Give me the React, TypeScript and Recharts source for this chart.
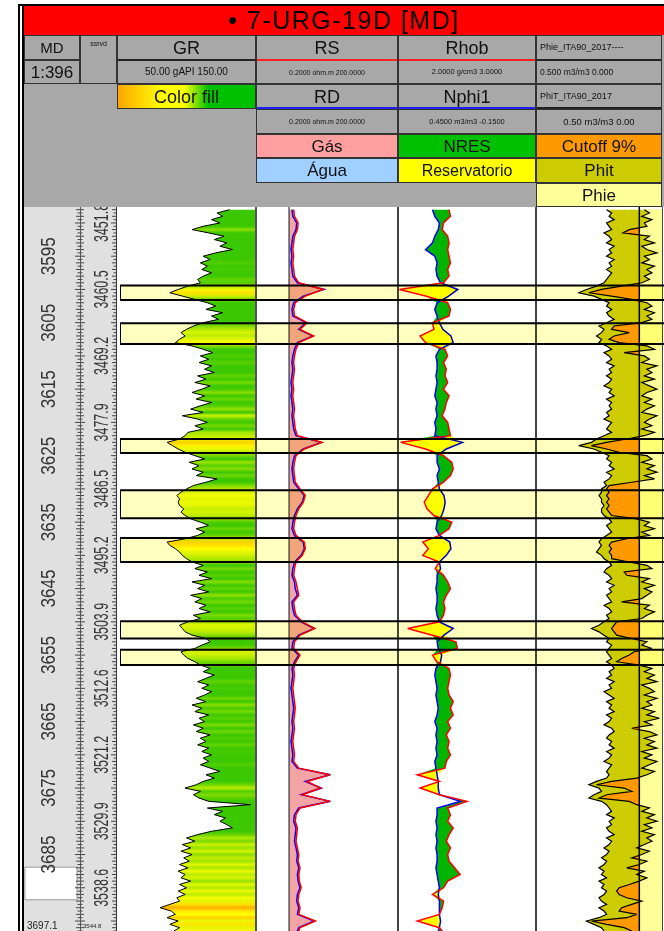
import React from 'react';
import { ComposedChart, Line, Area, XAxis, YAxis, ReferenceArea, ReferenceLine } from 'recharts';

// depth window shown by the log (m, MD)
const TOP_MD = 3587.6;
const BASE_MD = 3696.5;

const MD_TICKS = [3595, 3605, 3615, 3625, 3635, 3645, 3655, 3665, 3675, 3685];
const TVD_TICKS = [3590, 3600, 3610, 3620, 3630, 3640, 3650, 3660, 3670, 3680, 3690];
const TVD_LABELS = ['3451.8', '3460.5', '3469.2', '3477.9', '3486.5', '3495.2', '3503.9', '3512.6', '3521.2', '3529.9', '3538.6'];

// reservoir intervals (yellow boxes)
const ZONES: [number, number][] = [
  [3599.4, 3601.6], [3605.1, 3608.2], [3622.5, 3624.6], [3630.2, 3634.4],
  [3637.4, 3641.0], [3649.9, 3652.5], [3654.2, 3656.5],
];
const MARKER: [number, number] = [3686.9, 3691.8];

// 0.5 m samples starting at 3588.0
const FINE_START = 3588;
const FINE_STEP = 0.5;
const GR = [
  131, 122, 126, 118, 124, 112, 104, 116, 127, 120,
  129, 124, 133, 121, 112, 117, 110, 115, 111, 118,
  112, 108, 110, 101, 94, 88, 97, 106, 115, 121,
  114, 126, 118, 123, 112, 105, 100, 96, 99, 95,
  92, 104, 112, 119, 110, 116, 109, 118, 113, 120,
  108, 114, 106, 117, 111, 104, 113, 107, 118, 110,
  103, 112, 97, 108, 115, 106, 112, 101, 99, 95,
  86, 90, 94, 99, 106, 113, 102, 109, 104, 112,
  107, 122, 114, 105, 100, 96, 93, 95, 94, 95,
  98, 96, 99, 103, 110, 116, 107, 113, 108, 99,
  86, 88, 92, 95, 97, 100, 104, 112, 106, 115,
  109, 118, 104, 113, 108, 116, 103, 111, 106, 114,
  109, 117, 105, 110, 101, 95, 97, 99, 104, 114,
  117, 111, 106, 96, 98, 101, 106, 110, 117, 112,
  120, 114, 108, 116, 111, 118, 113, 107, 114, 104,
  111, 106, 116, 109, 113, 105, 112, 107, 117, 110,
  114, 108, 116, 111, 118, 112, 116, 110, 117, 124,
  114, 120, 112, 107, 99, 110, 105, 109, 116, 146,
  115, 126, 120, 128, 124, 129, 133, 118, 108, 100,
  106, 97, 103, 96, 104, 98, 102, 95, 101, 94,
  99, 96, 103, 95, 100, 94, 99, 93, 95, 88,
  81, 89, 92, 86, 94, 88, 95, 91,
];
const PHIT = [
  0.22, 0.20, 0.21, 0.19, 0.22, 0.21, 0.20, 0.23, 0.21, 0.20,
  0.22, 0.19, 0.21, 0.20, 0.22, 0.19, 0.21, 0.20, 0.22, 0.20,
  0.21, 0.22, 0.23, 0.26, 0.30, 0.33, 0.27, 0.24, 0.21, 0.22,
  0.20, 0.22, 0.21, 0.19, 0.22, 0.25, 0.23, 0.24, 0.26, 0.24,
  0.25, 0.22, 0.20, 0.23, 0.21, 0.20, 0.22, 0.19, 0.21, 0.20,
  0.22, 0.20, 0.21, 0.23, 0.20, 0.21, 0.19, 0.22, 0.20, 0.21,
  0.20, 0.22, 0.21, 0.23, 0.20, 0.21, 0.22, 0.20, 0.23, 0.26,
  0.28, 0.33, 0.27, 0.24, 0.21, 0.22, 0.20, 0.21, 0.19, 0.22,
  0.20, 0.21, 0.23, 0.22, 0.24, 0.24, 0.25, 0.24, 0.24, 0.23,
  0.24, 0.24, 0.23, 0.21, 0.20, 0.22, 0.21, 0.20, 0.22, 0.24,
  0.25, 0.24, 0.25, 0.26, 0.24, 0.23, 0.21, 0.20, 0.22, 0.23,
  0.21, 0.20, 0.22, 0.19, 0.21, 0.20, 0.22, 0.21, 0.20, 0.23,
  0.21, 0.20, 0.22, 0.21, 0.23, 0.25, 0.28, 0.25, 0.23, 0.21,
  0.22, 0.20, 0.21, 0.22, 0.21, 0.20, 0.22, 0.20, 0.19, 0.21,
  0.20, 0.22, 0.19, 0.21, 0.20, 0.23, 0.21, 0.19, 0.22, 0.20,
  0.21, 0.19, 0.22, 0.20, 0.21, 0.23, 0.20, 0.19, 0.21, 0.22,
  0.20, 0.21, 0.19, 0.22, 0.20, 0.21, 0.23, 0.20, 0.21, 0.22,
  0.21, 0.22, 0.26, 0.29, 0.25, 0.24, 0.27, 0.29, 0.24, 0.22,
  0.21, 0.20, 0.22, 0.19, 0.21, 0.20, 0.22, 0.21, 0.19, 0.22,
  0.20, 0.21, 0.23, 0.21, 0.22, 0.24, 0.22, 0.23, 0.25, 0.23,
  0.24, 0.22, 0.25, 0.23, 0.24, 0.22, 0.23, 0.25, 0.24, 0.22,
  0.25, 0.23, 0.22, 0.25, 0.30, 0.27, 0.24, 0.23,
];
const PHIE = [
  0.07, 0.05, 0.08, 0.04, 0.07, 0.06, 0.13, 0.155, 0.05, 0.07,
  0.03, 0.08, 0.06, 0.02, 0.07, 0.05, 0.08, 0.03, 0.06, 0.04,
  0.07, 0.05, 0.08, 0.16, 0.24, 0.29, 0.20, 0.12, 0.06, 0.04,
  0.07, 0.03, 0.06, 0.04, 0.08, 0.19, 0.20, 0.13, 0.19, 0.21,
  0.17, 0.06, 0.03, 0.15, 0.07, 0.05, 0.08, 0.02, 0.06, 0.04,
  0.07, 0.03, 0.08, 0.05, 0.02, 0.06, 0.08, 0.04, 0.07, 0.03,
  0.06, 0.08, 0.02, 0.05, 0.07, 0.04, 0.08, 0.03, 0.07, 0.14,
  0.22, 0.28, 0.22, 0.17, 0.06, 0.04, 0.08, 0.03, 0.06, 0.02,
  0.07, 0.03, 0.12, 0.21, 0.22, 0.21, 0.22, 0.21, 0.22, 0.21,
  0.22, 0.21, 0.20, 0.10, 0.05, 0.07, 0.03, 0.08, 0.05, 0.14,
  0.20, 0.21, 0.20, 0.21, 0.20, 0.20, 0.13, 0.06, 0.04, 0.15,
  0.14, 0.05, 0.08, 0.03, 0.07, 0.04, 0.06, 0.08, 0.16, 0.05,
  0.07, 0.03, 0.06, 0.08, 0.18, 0.19, 0.20, 0.19, 0.18, 0.12,
  0.06, 0.08, 0.04, 0.11, 0.13, 0.16, 0.18, 0.09, 0.04, 0.07,
  0.03, 0.06, 0.02, 0.08, 0.05, 0.03, 0.07, 0.02, 0.06, 0.04,
  0.08, 0.03, 0.06, 0.01, 0.07, 0.04, 0.12, 0.05, 0.02, 0.07,
  0.03, 0.06, 0.02, 0.08, 0.04, 0.07, 0.02, 0.05, 0.08, 0.03,
  0.06, 0.10, 0.20, 0.26, 0.15, 0.12, 0.22, 0.25, 0.13, 0.10,
  0.05, 0.08, 0.03, 0.06, 0.02, 0.07, 0.04, 0.08, 0.03, 0.06,
  0.04, 0.07, 0.10, 0.05, 0.08, 0.12, 0.06, 0.09, 0.14, 0.07,
  0.10, 0.06, 0.09, 0.13, 0.17, 0.18, 0.17, 0.14, 0.08, 0.12,
  0.16, 0.17, 0.10, 0.14, 0.28, 0.22, 0.15, 0.12,
];

// 1 m samples starting at 3588
const COARSE_START = 3588;
const COARSE_STEP = 1;
const RD = [
  1.15, 1.2, 1.45, 1.4, 1.2, 1.15, 1.1, 1.15, 1.1, 1.15,
  1.2, 1.5, 5.5, 2.0, 1.25, 1.15, 1.2, 2.3, 1.6, 3.2,
  1.5, 1.3, 1.2, 1.15, 1.2, 1.15, 1.1, 1.15, 1.1, 1.15,
  1.2, 1.15, 1.2, 1.25, 1.4, 4.8, 2.0, 1.3, 1.2, 1.15,
  1.2, 1.25, 1.6, 2.1, 1.9, 1.5, 1.3, 1.2, 1.15, 1.3,
  2.0, 2.1, 1.8, 1.3, 1.2, 1.15, 1.3, 1.35, 1.5, 1.15,
  1.2, 1.3, 1.8, 3.4, 1.6, 1.2, 1.15, 1.6, 1.3, 1.15,
  1.2, 1.15, 1.1, 1.15, 1.2, 1.25, 1.2, 1.15, 1.2, 1.15,
  1.1, 1.15, 1.2, 1.15, 1.5, 7.5, 2.2, 4.8, 1.8, 7.5,
  1.6, 1.3, 1.25, 1.4, 1.35, 1.3, 1.4, 1.5, 1.45, 1.6,
  1.5, 1.55, 1.7, 1.5, 1.45, 1.6, 1.5, 3.4, 1.6, 1.4,
];
const RS = [
  1.25, 1.3, 1.55, 1.5, 1.3, 1.25, 1.2, 1.25, 1.2, 1.25,
  1.3, 1.6, 5.2, 2.2, 1.35, 1.25, 1.3, 2.4, 1.7, 3.3,
  1.6, 1.4, 1.3, 1.25, 1.3, 1.25, 1.2, 1.25, 1.2, 1.25,
  1.3, 1.25, 1.3, 1.35, 1.5, 4.9, 2.1, 1.4, 1.3, 1.25,
  1.3, 1.35, 1.7, 2.2, 2.0, 1.6, 1.4, 1.3, 1.25, 1.4,
  2.1, 2.2, 1.9, 1.4, 1.3, 1.25, 1.4, 1.5, 1.6, 1.25,
  1.3, 1.4, 1.9, 3.5, 1.7, 1.3, 1.25, 1.7, 1.4, 1.25,
  1.3, 1.25, 1.2, 1.25, 1.3, 1.35, 1.3, 1.25, 1.3, 1.25,
  1.2, 1.25, 1.3, 1.25, 1.6, 7.2, 2.4, 4.6, 1.9, 7.3,
  1.7, 1.4, 1.35, 1.5, 1.45, 1.4, 1.5, 1.6, 1.55, 1.7,
  1.6, 1.65, 1.8, 1.6, 1.55, 1.7, 1.6, 3.6, 1.7, 1.5,
];
const RHOB = [
  2.37, 2.38, 2.33, 2.32, 2.36, 2.37, 2.36, 2.37, 2.38, 2.36,
  2.37, 2.33, 2.01, 2.20, 2.36, 2.38, 2.37, 2.25, 2.26, 2.16,
  2.20, 2.34, 2.36, 2.33, 2.35, 2.34, 2.36, 2.33, 2.37, 2.35,
  2.34, 2.32, 2.36, 2.37, 2.38, 2.02, 2.20, 2.33, 2.39, 2.40,
  2.38, 2.33, 2.25, 2.22, 2.19, 2.21, 2.26, 2.39, 2.37, 2.30,
  2.18, 2.22, 2.18, 2.30, 2.27, 2.33, 2.36, 2.38, 2.35, 2.33,
  2.34, 2.33, 2.30, 2.07, 2.25, 2.42, 2.43, 2.25, 2.28, 2.37,
  2.38, 2.37, 2.36, 2.37, 2.40, 2.38, 2.40, 2.36, 2.38, 2.35,
  2.37, 2.36, 2.38, 2.35, 2.34, 2.14, 2.30, 2.16, 2.30, 2.50,
  2.36, 2.38, 2.36, 2.40, 2.37, 2.35, 2.38, 2.36, 2.37, 2.41,
  2.45, 2.36, 2.33, 2.25, 2.33, 2.32, 2.30, 2.14, 2.30, 2.34,
];
const NPHI = [
  0.30, 0.29, 0.27, 0.275, 0.29, 0.30, 0.33, 0.29, 0.28, 0.285,
  0.28, 0.265, 0.19, 0.23, 0.28, 0.29, 0.28, 0.27, 0.255, 0.22,
  0.21, 0.27, 0.285, 0.28, 0.28, 0.285, 0.28, 0.285, 0.29, 0.28,
  0.285, 0.28, 0.29, 0.285, 0.29, 0.17, 0.24, 0.28, 0.28, 0.27,
  0.28, 0.275, 0.27, 0.25, 0.245, 0.25, 0.26, 0.28, 0.285, 0.27,
  0.225, 0.22, 0.24, 0.27, 0.265, 0.28, 0.28, 0.285, 0.28, 0.28,
  0.285, 0.28, 0.27, 0.21, 0.25, 0.28, 0.275, 0.26, 0.265, 0.285,
  0.29, 0.285, 0.28, 0.285, 0.28, 0.275, 0.28, 0.29, 0.28, 0.285,
  0.28, 0.285, 0.28, 0.29, 0.285, 0.28, 0.275, 0.275, 0.27, 0.18,
  0.28, 0.28, 0.285, 0.28, 0.285, 0.28, 0.285, 0.28, 0.28, 0.285,
  0.28, 0.275, 0.27, 0.275, 0.27, 0.27, 0.27, 0.265, 0.27, 0.28,
];

const PHIE_CUTOFF = 0.09;
const RES_BASE = 1;

const fine = GR.map((gr, i) => {
  const phie = PHIE[i];
  return {
    md: FINE_START + i * FINE_STEP,
    gr,
    phit: PHIT[i],
    phie,
    pay: phie > PHIE_CUTOFF ? [phie, PHIE_CUTOFF] : [PHIE_CUTOFF, PHIE_CUTOFF],
  };
});

const coarse = RD.map((rd, i) => {
  const rhob = RHOB[i];
  // neutron put on the density scale so the two curves can be shaded against each other
  const nEq = 2 + (0.45 - NPHI[i]) / 0.6;
  return {
    md: COARSE_START + i * COARSE_STEP,
    rd,
    rs: RS[i],
    rhob,
    nphi: NPHI[i],
    shale: nEq < rhob ? [nEq, rhob] : [rhob, rhob],
    sand: rhob < nEq ? [rhob, nEq] : [rhob, rhob],
  };
});

function mix(a: number[], b: number[], t: number) {
  const c = a.map((v, k) => Math.round(v + (b[k] - v) * t));
  return `rgb(${c[0]},${c[1]},${c[2]})`;
}
function grColor(v: number) {
  const orange = [255, 165, 0], yellow = [255, 255, 0], green = [60, 200, 0];
  if (v <= 80) return mix(orange, orange, 0);
  if (v < 92) return mix(orange, yellow, (v - 80) / 12);
  if (v < 112) return mix(yellow, green, (v - 92) / 20);
  return mix(green, green, 0);
}
const lastFine = fine[fine.length - 1].md;
const grStops = fine.map(p => ({ off: (p.md - FINE_START) / (lastFine - FINE_START), color: grColor(p.gr) }));

const PLOT_TOP = 207;
const PLOT_H = 724;
const M = { top: 0, right: 0, bottom: 0, left: 0 };
const FONT = 'Arial, "Liberation Sans", sans-serif';
const HALF = () => 0.5; // keeps an axis alive in charts that only carry annotations

const RULER: number[] = [];
for (let d = 3588; d <= 3696.5; d += 0.5) RULER.push(d);

function MdLabel(props: any) {
  const { y, payload } = props;
  return (
    <text x={24} y={y} transform={`rotate(-90 24 ${y})`} textAnchor="middle" dominantBaseline="central"
      fontSize={20} textLength={38} lengthAdjust="spacingAndGlyphs" fill="#333" fontFamily={FONT}>
      {payload.value}
    </text>
  );
}
function TvdLabel(props: any) {
  const { y, index } = props;
  return (
    <text x={77} y={y} transform={`rotate(-90 77 ${y})`} textAnchor="middle" dominantBaseline="central"
      fontSize={20} textLength={38} lengthAdjust="spacingAndGlyphs" fill="#333" fontFamily={FONT}>
      {TVD_LABELS[index]}
    </text>
  );
}
function RulerTick(props: any) {
  const { y, payload } = props;
  const major = Math.abs(payload.value % 5) < 0.01;
  const whole = Math.abs(payload.value % 1) < 0.01;
  const l = major ? 5 : whole ? 4 : 2.5;
  return (
    <g stroke="#444" strokeWidth={1}>
      <line x1={56 - l} x2={56 + l} y1={y} y2={y} />
      <line x1={92 - l} x2={92} y1={y} y2={y} />
    </g>
  );
}

function Box({ x, y, w, h, bg, fs = 16, left = false, border = true, children, style }: any) {
  return (
    <div style={{
      position: 'absolute', left: x, top: y, width: w, height: h, background: bg,
      boxSizing: 'border-box', border: border ? '1px solid #333' : 'none', fontSize: fs,
      display: 'flex', alignItems: 'center', justifyContent: left ? 'flex-start' : 'center',
      paddingLeft: left ? 3 : 0, whiteSpace: 'nowrap', overflow: 'hidden', lineHeight: 1, color: '#111', ...style,
    }}>{children}</div>
  );
}
function Rule({ x, y, w, color }: any) {
  return <div style={{ position: 'absolute', left: x, top: y, width: w, height: 2, background: color }} />;
}
function VLine({ x, color = '#444', w = 1, top = PLOT_TOP, h = PLOT_H }: any) {
  return <div style={{ position: 'absolute', left: x, top, width: w, height: h, background: color }} />;
}

export default function App() {
  const yAxis = <YAxis type="number" dataKey="md" domain={[TOP_MD, BASE_MD]} hide allowDataOverflow />;
  return (
    <div style={{ position: 'absolute', left: 0, top: 0, width: 664, height: 931, overflow: 'hidden', background: '#fff', fontFamily: FONT }}>
      {/* header */}
      <div style={{ position: 'absolute', left: 18, top: 4, width: 646, height: 2, background: '#000' }} />
      <div style={{ position: 'absolute', left: 24, top: 35, width: 640, height: 172, background: '#a8a8a8' }} />
      <Box x={24} y={6} w={640} h={29} bg="#ff0000" fs={25} border={false} style={{ letterSpacing: 1.5, color: '#000' }}>• 7-URG-19D [MD]</Box>

      <Box x={24} y={35} w={56} h={25} fs={15}>MD</Box>
      <Box x={24} y={60} w={56} h={24} fs={17}>1:396</Box>
      <Box x={80} y={35} w={37} h={49} fs={7} style={{ alignItems: 'flex-start', paddingTop: 4 }}>ssrvd</Box>

      <Box x={117} y={35} w={139} h={25} fs={18}>GR</Box>
      <Box x={117} y={60} w={139} h={24} fs={10}>50.00 gAPI 150.00</Box>
      <Rule x={118} y={59} w={137} color="#222" />
      <Box x={117} y={84} w={139} h={25} fs={18}
        bg="linear-gradient(to right, #ffa500 0%, #ffff00 32%, #ffff00 48%, #00c000 66%, #00c000 100%)">Color fill</Box>

      <Box x={256} y={35} w={142} h={25} fs={18}>RS</Box>
      <Box x={256} y={60} w={142} h={24} fs={7}>0.2000 ohm.m 200.0000</Box>
      <Rule x={257} y={59} w={140} color="#ff2020" />
      <Box x={256} y={84} w={142} h={25} fs={18}>RD</Box>
      <Box x={256} y={109} w={142} h={25} fs={7}>0.2000 ohm.m 200.0000</Box>
      <Rule x={257} y={107} w={140} color="#2020ff" />
      <Box x={256} y={134} w={142} h={24} fs={17} bg="#ff9f9f">Gás</Box>
      <Box x={256} y={158} w={142} h={25} fs={17} bg="#a0d0ff">Água</Box>

      <Box x={398} y={35} w={138} h={25} fs={18}>Rhob</Box>
      <Box x={398} y={60} w={138} h={24} fs={7.5}>2.0000 g/cm3 3.0000</Box>
      <Rule x={399} y={59} w={136} color="#ff2020" />
      <Box x={398} y={84} w={138} h={25} fs={18}>Nphi1</Box>
      <Box x={398} y={109} w={138} h={25} fs={7.5}>0.4500 m3/m3 -0.1500</Box>
      <Rule x={399} y={107} w={136} color="#2020ff" />
      <Box x={398} y={134} w={138} h={24} fs={17} bg="#00c000">NRES</Box>
      <Box x={398} y={158} w={138} h={25} fs={16} bg="#ffff00">Reservatorio</Box>

      <Box x={536} y={35} w={126} h={25} fs={9} left>Phie_ITA90_2017----</Box>
      <Box x={536} y={60} w={126} h={24} fs={8.5} left>0.500 m3/m3 0.000</Box>
      <Rule x={537} y={59} w={124} color="#222" />
      <Box x={536} y={84} w={126} h={25} fs={9} left>PhiT_ITA90_2017</Box>
      <Box x={536} y={109} w={126} h={25} fs={9.5}>0.50 m3/m3 0.00</Box>
      <Rule x={537} y={107} w={124} color="#222" />
      <Box x={536} y={134} w={126} h={24} fs={17} bg="#ff9900">Cutoff 9%</Box>
      <Box x={536} y={158} w={126} h={25} fs={17} bg="#cccc00">Phit</Box>
      <Box x={536} y={183} w={126} h={24} fs={17} bg="#ffff99">Phie</Box>

      {/* depth track: marker box behind, labels and ruler on top */}
      <div style={{ position: 'absolute', left: 24, top: PLOT_TOP, width: 93, height: PLOT_H, background: '#e0e0e0' }}>
        <ComposedChart layout="vertical" width={93} height={PLOT_H} data={fine} margin={M}>
          <XAxis type="number" domain={[0, 1]} hide />
          {yAxis}
          <ReferenceArea x1={0.01} x2={0.57} y1={MARKER[0]} y2={MARKER[1]} fill="#ffffff" fillOpacity={1} stroke="#999" ifOverflow="visible" />
          <Line dataKey={HALF} stroke="none" dot={false} isAnimationActive={false} />
        </ComposedChart>
      </div>
      <div style={{ position: 'absolute', left: 24, top: PLOT_TOP, width: 93, height: PLOT_H }}>
        <ComposedChart layout="vertical" width={93} height={PLOT_H} data={fine} margin={M}>
          <XAxis type="number" domain={[0, 1]} hide />
          <YAxis yAxisId="md" type="number" dataKey="md" domain={[TOP_MD, BASE_MD]} allowDataOverflow mirror width={2}
            ticks={MD_TICKS} interval={0} axisLine={false} tickLine={false} tick={(p: any) => <MdLabel {...p} />} />
          <YAxis yAxisId="tvd" type="number" dataKey="md" domain={[TOP_MD, BASE_MD]} allowDataOverflow mirror width={2}
            ticks={TVD_TICKS} interval={0} axisLine={false} tickLine={false} tick={(p: any) => <TvdLabel {...p} />} />
          <YAxis yAxisId="ruler" type="number" dataKey="md" domain={[TOP_MD, BASE_MD]} allowDataOverflow mirror width={2}
            ticks={RULER} interval={0} axisLine={false} tickLine={false} tick={(p: any) => <RulerTick {...p} />} />
          <Line yAxisId="md" dataKey={HALF} stroke="none" dot={false} isAnimationActive={false} />
          <Line yAxisId="tvd" dataKey={HALF} stroke="none" dot={false} isAnimationActive={false} />
          <Line yAxisId="ruler" dataKey={HALF} stroke="none" dot={false} isAnimationActive={false} />
        </ComposedChart>
      </div>
      <div style={{ position: 'absolute', left: 27, top: 920, fontSize: 10, color: '#222' }}>3697.1</div>
      <div style={{ position: 'absolute', left: 83, top: 923, fontSize: 6, color: '#222' }}>3544.8</div>

      {/* GR track */}
      <div style={{ position: 'absolute', left: 117, top: PLOT_TOP }}>
        <ComposedChart layout="vertical" width={139} height={PLOT_H} data={fine} margin={M}>
          <defs>
            <linearGradient id="grFill" x1="0" y1="0" x2="0" y2="1">
              {grStops.map((s, i) => <stop key={i} offset={s.off} stopColor={s.color} />)}
            </linearGradient>
          </defs>
          <XAxis type="number" domain={[50, 150]} hide allowDataOverflow />
          {yAxis}
          <Area type="linear" dataKey="gr" baseValue="dataMax" fill="url(#grFill)" fillOpacity={1} stroke="none" isAnimationActive={false} />
          <Line type="linear" dataKey="gr" stroke="#000" strokeWidth={1} dot={false} isAnimationActive={false} />
        </ComposedChart>
      </div>

      {/* resistivity track */}
      <div style={{ position: 'absolute', left: 256, top: PLOT_TOP }}>
        <ComposedChart layout="vertical" width={142} height={PLOT_H} data={coarse} margin={M}>
          <XAxis type="number" scale="log" domain={[0.2, 200]} hide allowDataOverflow />
          {yAxis}
          <Area type="linear" dataKey="rs" baseValue={RES_BASE} fill="#f4a4a4" fillOpacity={1} stroke="none" isAnimationActive={false} />
          <ReferenceLine x={RES_BASE} stroke="#555" strokeWidth={1.5} />
          <Line type="linear" dataKey="rd" stroke="#0000ff" strokeWidth={1.5} dot={false} isAnimationActive={false} />
          <Line type="linear" dataKey="rs" stroke="#ff0000" strokeWidth={1.5} dot={false} isAnimationActive={false} />
        </ComposedChart>
      </div>

      {/* density / neutron track */}
      <div style={{ position: 'absolute', left: 398, top: PLOT_TOP }}>
        <ComposedChart layout="vertical" width={138} height={PLOT_H} data={coarse} margin={M}>
          <XAxis xAxisId="rhob" type="number" domain={[2, 3]} hide allowDataOverflow />
          <XAxis xAxisId="nphi" type="number" domain={[-0.15, 0.45]} reversed hide allowDataOverflow />
          {yAxis}
          <Area xAxisId="rhob" type="linear" dataKey="shale" fill="#00b400" fillOpacity={1} stroke="none" isAnimationActive={false} />
          <Area xAxisId="rhob" type="linear" dataKey="sand" fill="#ffff00" fillOpacity={1} stroke="none" isAnimationActive={false} />
          <Line xAxisId="nphi" type="linear" dataKey="nphi" stroke="#0000ff" strokeWidth={1.5} dot={false} isAnimationActive={false} />
          <Line xAxisId="rhob" type="linear" dataKey="rhob" stroke="#ff0000" strokeWidth={1.5} dot={false} isAnimationActive={false} />
        </ComposedChart>
      </div>

      {/* porosity track */}
      <div style={{ position: 'absolute', left: 536, top: PLOT_TOP }}>
        <ComposedChart layout="vertical" width={126} height={PLOT_H} data={fine} margin={M}>
          <XAxis type="number" domain={[0, 0.5]} reversed hide allowDataOverflow />
          {yAxis}
          <Area type="linear" dataKey="phit" baseValue={0} fill="#cccc00" fillOpacity={1} stroke="none" isAnimationActive={false} />
          <Area type="linear" dataKey="phie" baseValue={0} fill="#ffff99" fillOpacity={1} stroke="none" isAnimationActive={false} />
          <Area type="linear" dataKey="pay" fill="#ff9900" fillOpacity={1} stroke="none" isAnimationActive={false} />
          <Line type="linear" dataKey="phit" stroke="#000" strokeWidth={1.2} dot={false} isAnimationActive={false} />
          <Line type="linear" dataKey="phie" stroke="#000" strokeWidth={1.2} dot={false} isAnimationActive={false} />
          <ReferenceLine x={PHIE_CUTOFF} stroke="#000" strokeWidth={1.5} />
        </ComposedChart>
      </div>

      {/* track borders */}
      <VLine x={80} color="#555" />
      <VLine x={116} color="#333" />
      <VLine x={255} color="#555" w={1.5} />
      <VLine x={397} color="#444" w={1.5} />
      <VLine x={535} color="#444" w={1.5} />
      <VLine x={662} color="#444" w={1} />

      {/* reservoir boxes drawn over all curve tracks */}
      <div style={{ position: 'absolute', left: 120, top: PLOT_TOP, width: 548, height: PLOT_H, mixBlendMode: 'multiply', pointerEvents: 'none' }}>
        <ComposedChart layout="vertical" width={548} height={PLOT_H} data={fine} margin={M}>
          <XAxis type="number" domain={[0, 1]} hide />
          {yAxis}
          {ZONES.map(([a, b], i) => (
            <ReferenceArea key={i} y1={a} y2={b} fill="#ffffc0" fillOpacity={1} stroke="#000" strokeWidth={2} ifOverflow="visible" />
          ))}
          <Line dataKey={HALF} stroke="none" dot={false} isAnimationActive={false} />
        </ComposedChart>
      </div>

      {/* frame */}
      <div style={{ position: 'absolute', left: 18, top: 4, width: 2, height: 927, background: '#000' }} />
      <div style={{ position: 'absolute', left: 22, top: 6, width: 1.5, height: 925, background: '#000' }} />
    </div>
  );
}
